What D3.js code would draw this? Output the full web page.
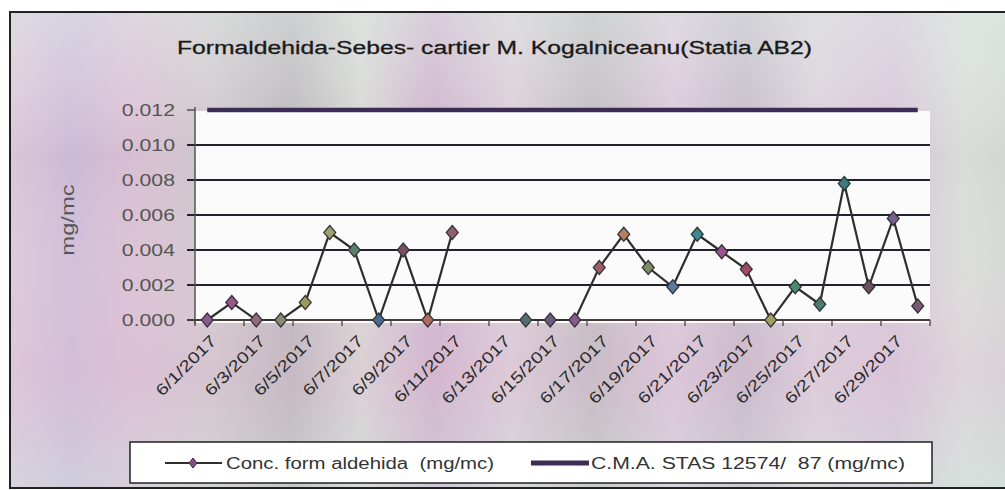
<!DOCTYPE html>
<html>
<head>
<meta charset="utf-8">
<script src="https://cdn.jsdelivr.net/npm/d3@7"></script>
<style>
  body { margin: 0; background: #fff; }
  svg { display: block; }
  text { font-family: "Liberation Sans", Arial, sans-serif; }
</style>
</head>
<body>
<script>
// datos
var dates = ["6/1/2017", "6/2/2017", "6/3/2017", "6/4/2017", "6/5/2017", "6/6/2017",
  "6/7/2017", "6/8/2017", "6/9/2017", "6/10/2017", "6/11/2017", "6/12/2017",
  "6/13/2017", "6/14/2017", "6/15/2017", "6/16/2017", "6/17/2017", "6/18/2017",
  "6/19/2017", "6/20/2017", "6/21/2017", "6/22/2017", "6/23/2017", "6/24/2017",
  "6/25/2017", "6/26/2017", "6/27/2017", "6/28/2017", "6/29/2017", "6/30/2017"];

var conc = [0, 0.001, 0, 0, 0.001, 0.005, 0.004, 0, 0.004, 0, 0.005, null,
  null, 0, 0, 0, 0.003, 0.0049, 0.003, 0.0019, 0.0049, 0.0039, 0.0029, 0,
  0.0019, 0.0009, 0.0078, 0.0019, 0.0058, 0.0008];

var cma = [0.012, 0.012, 0.012, 0.012, 0.012, 0.012, 0.012, 0.012, 0.012, 0.012,
  0.012, 0.012, 0.012, 0.012, 0.012, 0.012, 0.012, 0.012, 0.012, 0.012,
  0.012, 0.012, 0.012, 0.012, 0.012, 0.012, 0.012, 0.012, 0.012, 0.012];

var yTicks = [0, 0.002, 0.004, 0.006, 0.008, 0.010, 0.012];
var xLabels = ["6/1/2017", "6/3/2017", "6/5/2017", "6/7/2017", "6/9/2017", "6/11/2017",
  "6/13/2017", "6/15/2017", "6/17/2017", "6/19/2017", "6/21/2017", "6/23/2017",
  "6/25/2017", "6/27/2017", "6/29/2017"];

var title = "Formaldehida-Sebes- cartier M. Kogalniceanu(Statia AB2)";
var yTitle = "mg/mc";
var legendNames = ["Conc. form aldehida  (mg/mc)", "C.M.A. STAS 12574/  87 (mg/mc)"];

// colores de los marcadores (el scan los deja distintos)
var markerColors = ["#8a5a90", "#955a8a", "#8f6a80", "#8a8a72", "#9a9a5a", "#a0a070",
  "#5a8070", "#4a6a90", "#7a5060", "#b06a60", "#906070", "#888", "#888", "#507070",
  "#6a5a80", "#8a5a8a", "#a05a6a", "#b08060", "#7a9060", "#5a7aa0", "#3a8a90",
  "#a05090", "#a04a6a", "#a0a060", "#4a8a70", "#4a7a70", "#3a7a80", "#6a5060",
  "#7a6090", "#7a5a70"];

var W = 1005, H = 490;
var stretch = 1.25; // el scan estira el texto en horizontal

var svg = d3.select("body").append("svg")
  .attr("width", W)
  .attr("height", H);

var defs = svg.append("defs");
var bg = defs.append("linearGradient").attr("id", "bg")
  .attr("x1", "0").attr("x2", "1").attr("y1", "0").attr("y2", "0");
[[0, "#dac6d6"], [0.06, "#cbbad6"], [0.12, "#d8bed2"], [0.2, "#cec6cb"], [0.28, "#b8b4b8"],
 [0.35, "#d5d5d2"], [0.42, "#ccb0ca"], [0.5, "#d8ccd6"], [0.58, "#bdb9bd"], [0.66, "#d8c6d8"],
 [0.73, "#c2b8c6"], [0.8, "#d9cfd9"], [0.88, "#d4c4d6"], [0.95, "#d8dcd8"], [1, "#d0d6d2"]]
  .forEach(function(s) {
    bg.append("stop").attr("offset", s[0]).attr("stop-color", s[1]);
  });
var bg2 = defs.append("linearGradient").attr("id", "bg2")
  .attr("x1", "0").attr("x2", "0").attr("y1", "0").attr("y2", "1");
[[0, "#e4f2ec", 0.45], [0.3, "#ffffff", 0], [0.75, "#e8c4dc", 0.3], [1, "#d4eae4", 0.4]]
  .forEach(function(s) {
    bg2.append("stop").attr("offset", s[0]).attr("stop-color", s[1]).attr("stop-opacity", s[2]);
  });

// fondo y marco
svg.append("rect").attr("x", 10).attr("y", 12).attr("width", W).attr("height", 476)
  .attr("fill", "url(#bg)");
svg.append("rect").attr("x", 10).attr("y", 12).attr("width", W).attr("height", 476)
  .attr("fill", "url(#bg2)");
svg.append("rect").attr("x", 10).attr("y", 12).attr("width", W).attr("height", 476)
  .attr("fill", "none").attr("stroke", "#222").attr("stroke-width", 2);

var plot = {left: 195, right: 930, top: 108, bottom: 320};

var x = d3.scaleBand().domain(dates).range([plot.left, plot.right]).padding(0);
var y = d3.scaleLinear().domain([0, 0.012]).range([plot.bottom, plot.top + 2]);
var cx = function(d) { return x(d) + x.bandwidth() / 2; };

function fitText(sel, w) {
  sel.each(function() {
    var len = w || this.getComputedTextLength() * stretch;
    d3.select(this).attr("textLength", len).attr("lengthAdjust", "spacingAndGlyphs");
  });
}

// area del grafico
svg.append("rect")
  .attr("x", plot.left).attr("y", plot.top + 3)
  .attr("width", plot.right - plot.left).attr("height", plot.bottom - plot.top)
  .attr("fill", "#fbfbfb");

// titulo
svg.append("text")
  .attr("x", 177).attr("y", 54)
  .attr("font-size", 18).attr("fill", "#1a1a1a")
  .attr("stroke", "#1a1a1a").attr("stroke-width", 0.3)
  .text(title)
  .call(fitText, 635);

// lineas de division
svg.append("g").selectAll("line")
  .data(yTicks.slice(0, -1))
  .join("line")
  .attr("x1", plot.left - 8).attr("x2", plot.right)
  .attr("y1", function(d) { return y(d); })
  .attr("y2", function(d) { return y(d); })
  .attr("stroke", function(d) { return d === 0 ? "#4a3a3a" : "#22222e"; })
  .attr("stroke-width", 1.9);

// eje y
svg.append("line")
  .attr("x1", plot.left).attr("x2", plot.left)
  .attr("y1", y(0.012) - 3).attr("y2", plot.bottom + 4)
  .attr("stroke", "#555").attr("stroke-width", 1.5);
svg.append("line")
  .attr("x1", plot.left - 8).attr("x2", plot.left)
  .attr("y1", y(0.012)).attr("y2", y(0.012))
  .attr("stroke", "#555").attr("stroke-width", 1.5);

svg.append("g").selectAll("text")
  .data(yTicks)
  .join("text")
  .attr("x", 175)
  .attr("y", function(d) { return y(d) + 6; })
  .attr("text-anchor", "end")
  .attr("font-size", 17).attr("fill", "#555")
  .text(function(d) { return d3.format(".3f")(d); })
  .call(fitText);

svg.append("text")
  .attr("transform", "translate(74,220) rotate(-90)")
  .attr("text-anchor", "middle")
  .attr("font-size", 19).attr("fill", "#555")
  .text(yTitle)
  .call(fitText);

// eje x: marcas cada 2 dias
var tickDates = dates.filter(function(d, i) { return i % 2 === 0; });
svg.append("g").selectAll("line")
  .data(tickDates)
  .join("line")
  .attr("x1", function(d) { return x(d); })
  .attr("x2", function(d) { return x(d); })
  .attr("y1", plot.bottom).attr("y2", plot.bottom + 6)
  .attr("stroke", "#444").attr("stroke-width", 1.3);
svg.append("line")
  .attr("x1", plot.right).attr("x2", plot.right)
  .attr("y1", plot.bottom).attr("y2", plot.bottom + 6)
  .attr("stroke", "#444").attr("stroke-width", 1.3);

svg.append("g").selectAll("text")
  .data(xLabels)
  .join("text")
  .attr("transform", function(d) {
    return "translate(" + (cx(d) + 10) + "," + (plot.bottom + 22) + ") rotate(-45)";
  })
  .attr("text-anchor", "end")
  .attr("font-size", 16).attr("fill", "#2a2a2a")
  .text(function(d) { return d; })
  .call(fitText);

// linea C.M.A.
var lineCma = d3.line()
  .x(function(d, i) { return cx(dates[i]); })
  .y(function(d) { return y(d); });
svg.append("path")
  .datum(cma)
  .attr("d", lineCma)
  .attr("fill", "none")
  .attr("stroke", "#3b2d55")
  .attr("stroke-width", 4.5);

// serie de concentracion
var lineConc = d3.line()
  .defined(function(d) { return d !== null; })
  .x(function(d, i) { return cx(dates[i]); })
  .y(function(d) { return y(d); });
svg.append("path")
  .datum(conc)
  .attr("d", lineConc)
  .attr("fill", "none")
  .attr("stroke", "#2e2e2e")
  .attr("stroke-width", 2.2);

var diamond = "M0,-7L6,0L0,7L-6,0Z";
svg.append("g").selectAll("path")
  .data(conc.map(function(v, i) { return {v: v, d: dates[i], c: markerColors[i]}; })
    .filter(function(p) { return p.v !== null; }))
  .join("path")
  .attr("d", diamond)
  .attr("transform", function(p) { return "translate(" + cx(p.d) + "," + y(p.v) + ")"; })
  .attr("fill", function(p) { return p.c; })
  .attr("stroke", "#333")
  .attr("stroke-width", 1.2);

// leyenda
var lg = svg.append("g");
lg.append("rect")
  .attr("x", 130).attr("y", 442).attr("width", 802).attr("height", 41)
  .attr("fill", "#fff").attr("stroke", "#222").attr("stroke-width", 1.5);
lg.append("line")
  .attr("x1", 165).attr("x2", 222).attr("y1", 463).attr("y2", 463)
  .attr("stroke", "#2e2e2e").attr("stroke-width", 2.2);
lg.append("path")
  .attr("d", "M0,-5L4,0L0,5L-4,0Z")
  .attr("transform", "translate(193,463)")
  .attr("fill", "#8a4a8a").attr("stroke", "#333").attr("stroke-width", 1);
lg.append("text")
  .attr("x", 226).attr("y", 469)
  .attr("font-size", 16).attr("fill", "#333")
  .attr("xml:space", "preserve")
  .text(legendNames[0])
  .call(fitText, 268);
lg.append("line")
  .attr("x1", 531).attr("x2", 589).attr("y1", 463).attr("y2", 463)
  .attr("stroke", "#3b2d55").attr("stroke-width", 5);
lg.append("text")
  .attr("x", 591).attr("y", 469)
  .attr("font-size", 16).attr("fill", "#333")
  .attr("xml:space", "preserve")
  .text(legendNames[1])
  .call(fitText, 314);
</script>
</body>
</html>
